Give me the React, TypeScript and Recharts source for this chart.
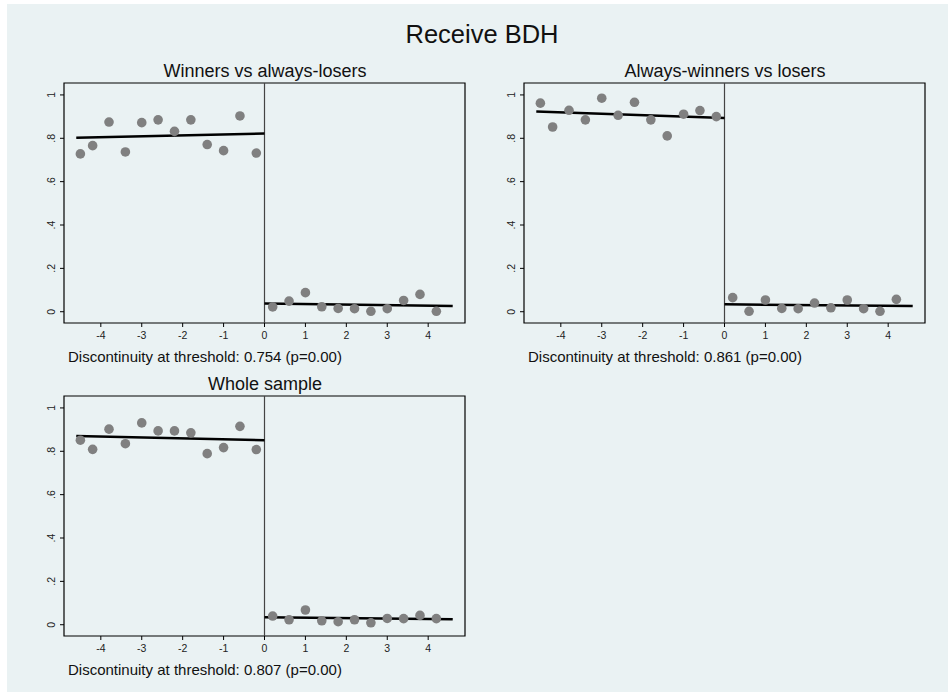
import React from "react";
import {
	ComposedChart,
	Scatter,
	Line,
	XAxis,
	YAxis,
	ReferenceLine,
	ReferenceArea,
} from "recharts";

// bin midpoints (running variable)
const leftBins = [-4.5, -4.2, -3.8, -3.4, -3.0, -2.6, -2.2, -1.8, -1.4, -1.0, -0.6, -0.2];
const rightBins = [0.2, 0.6, 1.0, 1.4, 1.8, 2.2, 2.6, 3.0, 3.4, 3.8, 4.2];
const leftFitX = [-4.6, 0];
const rightFitX = [0, 4.6];

const xTicks = [-4, -3, -2, -1, 0, 1, 2, 3, 4];
const yTicks = [0, 0.2, 0.4, 0.6, 0.8, 1];

// Winners vs always-losers
const winnersLeft = [0.728, 0.766, 0.875, 0.737, 0.872, 0.885, 0.832, 0.885, 0.771, 0.743, 0.903, 0.732];
const winnersRight = [0.022, 0.049, 0.088, 0.023, 0.015, 0.014, 0.002, 0.014, 0.052, 0.08, 0.002];
const winnersFitLeft = [0.802, 0.822];
const winnersFitRight = [0.038, 0.026];

// Always-winners vs losers
const alwaysLeft = [0.962, 0.852, 0.929, 0.885, 0.985, 0.906, 0.966, 0.885, 0.811, 0.911, 0.928, 0.9];
const alwaysRight = [0.065, 0.002, 0.054, 0.015, 0.014, 0.04, 0.018, 0.054, 0.014, 0.002, 0.057];
const alwaysFitLeft = [0.923, 0.894];
const alwaysFitRight = [0.034, 0.026];

// Whole sample
const wholeLeft = [0.851, 0.809, 0.902, 0.835, 0.931, 0.894, 0.894, 0.885, 0.789, 0.817, 0.915, 0.808];
const wholeRight = [0.04, 0.023, 0.068, 0.018, 0.014, 0.023, 0.009, 0.029, 0.028, 0.043, 0.028];
const wholeFitLeft = [0.871, 0.851];
const wholeFitRight = [0.035, 0.025];

const panelTitles = ["Winners vs always-losers", "Always-winners vs losers", "Whole sample"];
const discontinuities = ["0.754", "0.861", "0.807"];
const pValues = ["0.00", "0.00", "0.00"];

const BG = "#EAF2F3";
const FONT = "'Liberation Sans', Arial, Helvetica, sans-serif";
const X_DOMAIN = [-4.9, 4.9];
const Y_DOMAIN = [-0.052, 1.055];

const zip = (xs: number[], ys: number[]) => xs.map((x, i) => ({ x, y: ys[i] }));

const fmtY = (v: number) => (v === 0 ? "0" : v === 1 ? "1" : String(v).replace(/^0\./, "."));

const YTick = (props: any) => {
	const { x, y, payload } = props;
	const cx = x - 7;
	return (
		<text
			x={cx}
			y={y}
			transform={`rotate(-90 ${cx} ${y})`}
			textAnchor="middle"
			dy="0.35em"
			fontSize={10.5}
			fontFamily={FONT}
			fill="#222"
		>
			{fmtY(payload.value)}
		</text>
	);
};

const Dot = (props: any) => {
	const { cx, cy } = props;
	return <circle cx={cx} cy={cy} r={4.8} fill="#808080" />;
};

interface PanelProps {
	left: number;
	top: number;
	ptsLeft: number[];
	ptsRight: number[];
	fitLeft: number[];
	fitRight: number[];
}

const Panel: React.FC<PanelProps> = ({ left, top, ptsLeft, ptsRight, fitLeft, fitRight }) => {
	return (
		<div style={{ position: "absolute", left, top }}>
			<ComposedChart width={480} height={360} margin={{ top: 83, right: 15, left: 0, bottom: 7 }}>
				<XAxis
					type="number"
					dataKey="x"
					domain={X_DOMAIN}
					ticks={xTicks}
					allowDataOverflow
					axisLine={false}
					tickSize={4}
					tickMargin={5}
					tickLine={{ stroke: "#000" }}
					tick={{ fontSize: 10.5, fontFamily: FONT, fill: "#222" }}
					height={30}
				/>
				<YAxis
					type="number"
					dataKey="y"
					domain={Y_DOMAIN}
					ticks={yTicks}
					allowDataOverflow
					axisLine={false}
					tickSize={4}
					tickMargin={2}
					tickLine={{ stroke: "#000" }}
					tick={<YTick />}
					width={64}
				/>
				<ReferenceArea
					x1={X_DOMAIN[0]}
					x2={X_DOMAIN[1]}
					y1={Y_DOMAIN[0]}
					y2={Y_DOMAIN[1]}
					fill="none"
					stroke="#000"
					strokeWidth={1.2}
				/>
				<ReferenceLine x={0} stroke="#444" strokeWidth={1.2} />
				<Scatter data={zip(leftBins, ptsLeft)} dataKey="y" shape={<Dot />} isAnimationActive={false} />
				<Scatter data={zip(rightBins, ptsRight)} dataKey="y" shape={<Dot />} isAnimationActive={false} />
				<Line data={zip(leftFitX, fitLeft)} dataKey="y" stroke="#000" strokeWidth={2.5} dot={false} isAnimationActive={false} />
				<Line data={zip(rightFitX, fitRight)} dataKey="y" stroke="#000" strokeWidth={2.5} dot={false} isAnimationActive={false} />
			</ComposedChart>
		</div>
	);
};

const offsets = [
	{ left: 0, top: 0 },
	{ left: 460, top: 0 },
	{ left: 0, top: 313 },
];

export default function App() {
	return (
		<div style={{ position: "absolute", left: 0, top: 0, width: 948, height: 692, background: "#fff", overflow: "hidden" }}>
			<div style={{ position: "absolute", left: 7, top: 4, width: 941, height: 688, background: BG }} />
			<Panel {...offsets[0]} ptsLeft={winnersLeft} ptsRight={winnersRight} fitLeft={winnersFitLeft} fitRight={winnersFitRight} />
			<Panel {...offsets[1]} ptsLeft={alwaysLeft} ptsRight={alwaysRight} fitLeft={alwaysFitLeft} fitRight={alwaysFitRight} />
			<Panel {...offsets[2]} ptsLeft={wholeLeft} ptsRight={wholeRight} fitLeft={wholeFitLeft} fitRight={wholeFitRight} />
			<svg width={948} height={692} style={{ position: "absolute", left: 0, top: 0, pointerEvents: "none" }}>
				<text x={482} y={43} textAnchor="middle" fontSize={25.5} fontFamily={FONT} fill="#111">
					Receive BDH
				</text>
				{offsets.map((o, i) => (
					<g key={i}>
						<text x={o.left + 265} y={o.top + 77.3} textAnchor="middle" fontSize={18} fontFamily={FONT} fill="#111">
							{panelTitles[i]}
						</text>
						<text x={o.left + 68} y={o.top + 361.5} fontSize={15} fontFamily={FONT} fill="#111">
							{`Discontinuity at threshold: ${discontinuities[i]} (p=${pValues[i]})`}
						</text>
					</g>
				))}
			</svg>
		</div>
	);
}
